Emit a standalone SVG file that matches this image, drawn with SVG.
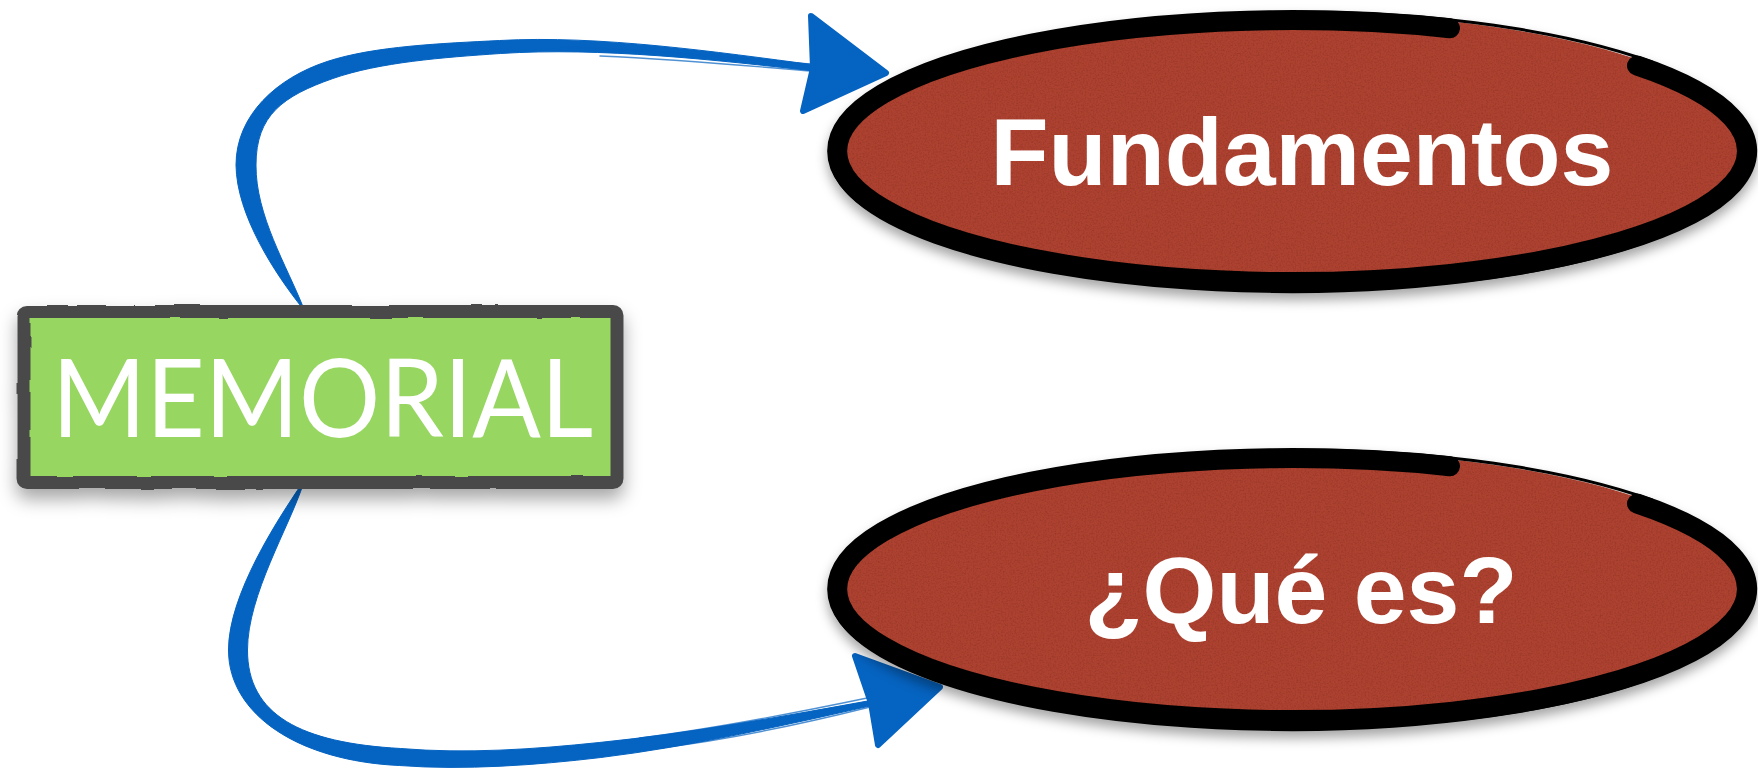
<svg xmlns="http://www.w3.org/2000/svg" width="1758" height="770" viewBox="0 0 1758 770">
  <style>
    .conn { fill: #0563C1; stroke: #0563C1; stroke-width: 1; stroke-linejoin: round; }
    .hair { fill: none; stroke: #0563C1; stroke-width: 1.4; stroke-opacity: 0.7; stroke-linecap: round; }
    .head { fill: #0563C1; stroke: #0563C1; stroke-width: 6; stroke-linejoin: round; }
    .oval-fill { fill: #AE4330; }
    .oval-stroke { fill: none; stroke: #000; stroke-width: 20; stroke-linecap: round; }
    .oval-extra { fill: none; stroke: #000; stroke-width: 16; stroke-linecap: round; }
    .oval-thin { fill: none; stroke: #000; stroke-width: 3; stroke-linecap: round; }
    .oval-text { font-family: "Liberation Sans", Arial, sans-serif; font-weight: bold; font-size: 95px; fill: #fff; text-anchor: middle; }
    .box-rect { fill: #97D660; stroke: #4A4A4A; stroke-width: 13; }
    .box-text { font-family: Lato, "Open Sans", sans-serif; font-size: 108px; fill: #fff; }
  </style>
  <defs>
    <filter id="shadow" x="-10%" y="-20%" width="120%" height="150%">
      <feDropShadow dx="0" dy="7" stdDeviation="6" flood-color="#000" flood-opacity="0.35"/>
    </filter>
    <filter id="boxshadow" x="-10%" y="-20%" width="120%" height="160%">
      <feDropShadow dx="0" dy="10" stdDeviation="9" flood-color="#000" flood-opacity="0.35"/>
    </filter>
    <filter id="rough" x="-5%" y="-10%" width="110%" height="120%">
      <feTurbulence type="fractalNoise" baseFrequency="0.025" numOctaves="2" seed="5" result="n"/>
      <feDisplacementMap in="SourceGraphic" in2="n" scale="3" xChannelSelector="R" yChannelSelector="G"/>
    </filter>
    <filter id="paper" x="0" y="0" width="100%" height="100%">
      <feTurbulence type="fractalNoise" baseFrequency="0.6" numOctaves="3" seed="2" result="t"/>
      <feColorMatrix in="t" type="matrix" values="0 0 0 0 0  0 0 0 0 0  0 0 0 0 0  0 0 0 -0.5 0.3" result="a"/>
      <feComposite in="a" in2="SourceGraphic" operator="in" result="spk"/>
      <feMerge><feMergeNode in="SourceGraphic"/><feMergeNode in="spk"/></feMerge>
    </filter>
  </defs>

  <g id="connectors">
    <path class="conn" d="M302.6,308.3 C274.9,273.5 236.5,215 236,165 C236,115 276.9,78 327.1,61.5 C374.3,46 442.6,43.4 499.6,40.5 C599.6,35 716.5,52 815.4,65 L814.6,71 C715.5,60 600.4,47 500.4,53.5 C443.4,57.4 379.7,62.1 332.9,78.5 C283.1,96 256,115 256,165 C255.5,215 287.1,266.5 303.4,307.8 Z"/>
    <path class="hair" d="M560,47 C650,49 740,59 812,64"/>
    <path class="hair" d="M600,56 C690,60 760,67 810,71"/>
    <path class="head" d="M811,16 L886,73 L803,111 L813,68 Z"/>
    <path class="conn" d="M302.55,482.8 C277,520.4 228.5,595 228.5,650 C228.5,715 299.3,761 399.3,765.5 C464,770.4 536.3,765.2 600.8,757.5 C690.2,746.6 788.7,724.4 876.5,704.5 L875.5,699.6 C786.9,715.6 688.8,733.6 599.2,742.5 C534.5,749.3 465.4,754 400.7,748.5 C300.7,743 247.5,715 247.5,650 C247.5,595 289.6,526.6 303.45,483.2 Z"/>
    <path class="hair" d="M640,738 C720,728 800,712 872,697"/>
    <path class="hair" d="M660,748 C740,738 810,722 870,707"/>
    <path class="head" d="M855,656 L940,687 L878,745 L871,703 Z"/>
  </g>

  <g id="node-memorial">
    <g filter="url(#boxshadow)">
      <rect class="box-rect" x="24" y="311.5" width="593" height="171" rx="4" filter="url(#rough)"/>
    </g>
    <text class="box-text" x="52" y="437" textLength="541" lengthAdjust="spacingAndGlyphs">MEMORIAL</text>
  </g>

  <g id="node-fundamentos">
    <g filter="url(#shadow)">
      <ellipse class="oval-fill" cx="1292" cy="151" rx="462" ry="138" filter="url(#paper)"/>
      <path class="oval-extra" d="M837,154 A453,131 0 0 0 1700,209.7"/>
      <path class="oval-stroke" d="M1637,65.6 A455,131 0 1 1 1450,28.2"/>
      <path class="oval-thin" d="M1300,12 A465,141 0 0 1 1652,62"/>
    </g>
    <text class="oval-text" x="1302" y="185">Fundamentos</text>
  </g>

  <g id="node-que-es">
    <g filter="url(#shadow)">
      <ellipse class="oval-fill" cx="1292" cy="589" rx="462" ry="138" filter="url(#paper)"/>
      <path class="oval-extra" d="M837,592 A453,131 0 0 0 1700,647.7"/>
      <path class="oval-stroke" d="M1637,503.6 A455,131 0 1 1 1450,466.2"/>
      <path class="oval-thin" d="M1300,450 A465,141 0 0 1 1652,500"/>
    </g>
    <text class="oval-text" x="1301" y="623">¿Qué es?</text>
  </g>
</svg>
